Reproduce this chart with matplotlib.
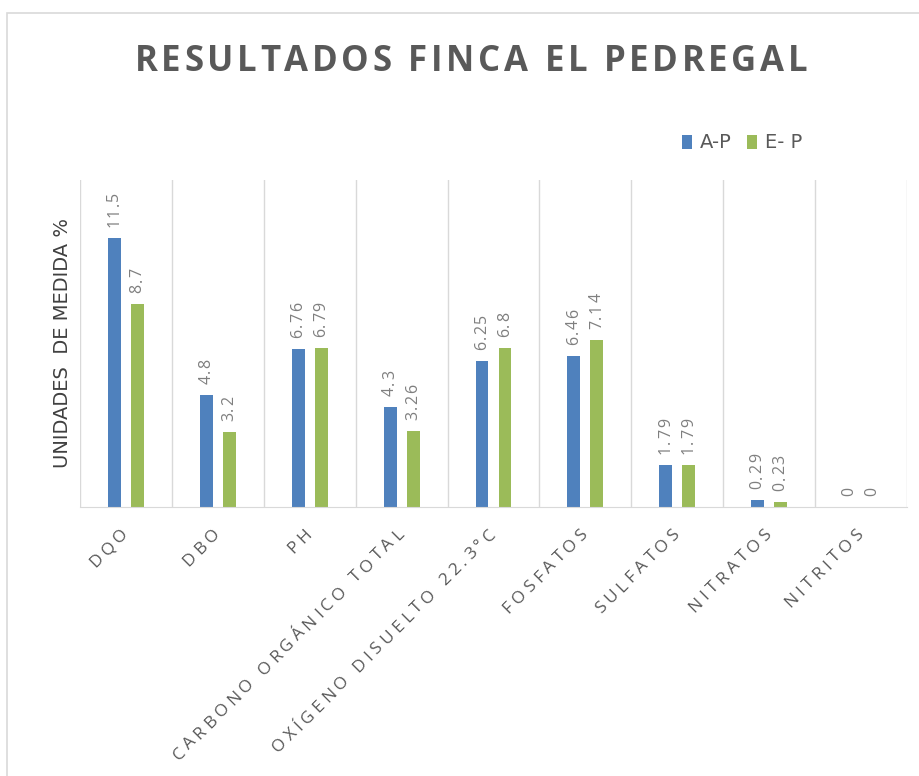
import matplotlib.pyplot as plt
from matplotlib.patches import Rectangle
from matplotlib.transforms import IdentityTransform
from matplotlib.font_manager import FontProperties
import numpy as np

categorias = ['DQO', 'DBO', 'PH', 'CARBONO ORGÁNICO TOTAL', 'OXÍGENO DISUELTO 22.3°C',
              'FOSFATOS', 'SULFATOS', 'NITRATOS', 'NITRITOS']
ap = [11.5, 4.8, 6.76, 4.3, 6.25, 6.46, 1.79, 0.29, 0]
ep = [8.7, 3.2, 6.79, 3.26, 6.8, 7.14, 1.79, 0.23, 0]
etiquetas_ap = ['11.5', '4.8', '6.76', '4.3', '6.25', '6.46', '1.79', '0.29', '0']
etiquetas_ep = ['8.7', '3.2', '6.79', '3.26', '6.8', '7.14', '1.79', '0.23', '0']

azul = '#4F81BD'
verde = '#9BBB59'
gris = '#595959'

W, H = 919, 776
fig = plt.figure(figsize=(W / 100, H / 100), dpi=100)
renderer = fig.canvas.get_renderer()


def ancho(ch, fp):
    # ancho de avance aproximado de un caracter
    w1, _, _ = renderer.get_text_width_height_descent('H' + ch + 'H', fp, ismath=False)
    w0, _, _ = renderer.get_text_width_height_descent('HH', fp, ismath=False)
    return w1 - w0


def texto_espaciado(x, y, s, angulo, size, color, track, ha='left', va='center',
                    weight='normal', family='Open Sans'):
    # x, y en pixeles desde arriba a la izquierda
    fp = FontProperties(family=family, size=size, weight=weight)
    ws = [ancho(c, fp) for c in s]
    total = sum(ws) + track * (len(s) - 1)
    d = np.array([np.cos(np.radians(angulo)), np.sin(np.radians(angulo))])
    p = np.array([x, H - y], dtype=float)
    if ha == 'right':
        p = p - total * d
    elif ha == 'center':
        p = p - total / 2 * d
    for c, w in zip(s, ws):
        fig.text(p[0], p[1], c, transform=IdentityTransform(), rotation=angulo,
                 rotation_mode='anchor', ha='left', va=va, fontproperties=fp, color=color)
        p = p + (w + track) * d


# marco del grafico
fig.patches.append(Rectangle((7 / W, -0.1), 1.2, (H - 13) / H + 0.1, transform=fig.transFigure,
                             fill=False, edgecolor='#d9d9d9', lw=1.2))

x0, x1, ytop, ybase = 80, 907, 180, 507
ax = fig.add_axes([x0 / W, (H - ybase) / H, (x1 - x0) / W, (ybase - ytop) / H])
x = np.arange(len(categorias))
w = 0.14
ax.bar(x - 0.125, ap, w, color=azul, label='A-P')
ax.bar(x + 0.125, ep, w, color=verde, label='E- P')

ax.set_xlim(-0.5, len(categorias) - 0.5)
ax.set_ylim(0, 14)
ax.set_yticks([])
ax.set_xticks(x)
ax.set_xticklabels([])
ax.tick_params(axis='x', length=0)
for xb in np.arange(-0.5, len(categorias), 1.0):
    ax.axvline(xb, color='#d9d9d9', lw=1, zorder=0)
for s in ['top', 'right', 'left']:
    ax.spines[s].set_visible(False)
ax.spines['bottom'].set_color('#d9d9d9')

# etiquetas de valores y de categorias
to_px = ax.transData
for xi, v, t in zip(x, ap, etiquetas_ap):
    px, py = to_px.transform((xi - 0.125, v))
    texto_espaciado(px, H - py - 11, t, 90, 11.5, '#7f7f7f', 1.5, ha='left', va='center')
for xi, v, t in zip(x, ep, etiquetas_ep):
    px, py = to_px.transform((xi + 0.125, v))
    texto_espaciado(px, H - py - 11, t, 90, 11.5, '#7f7f7f', 1.5, ha='left', va='center')
for xi, c in zip(x, categorias):
    px, _ = to_px.transform((xi, 0))
    texto_espaciado(px, ybase + 25, c, 45, 12.5, gris, 4.0, ha='right', va='center')

fig.text(62 / W, 1 - 343 / H, 'UNIDADES  DE MEDIDA %', rotation=90, ha='center', va='center',
         fontsize=14, color='#404040')

# titulo
fp_t = FontProperties(family='Open Sans', size=25, weight='bold')
ws_t = [ancho(c, fp_t) for c in 'RESULTADOS FINCA EL PEDREGAL']
track_t = (673 - sum(ws_t)) / (len(ws_t) - 1)
texto_espaciado(471, 62, 'RESULTADOS FINCA EL PEDREGAL', 0, 25, gris, track_t,
                ha='center', va='center', weight='bold')

ax.legend(loc='center', bbox_to_anchor=(742 / W, 1 - 143 / H), bbox_transform=fig.transFigure,
          ncol=2, frameon=False, fontsize=14, handlelength=0.5, handleheight=0.75,
          columnspacing=0.8, handletextpad=0.4, labelcolor=gris)

fig.savefig('out.png', dpi=100)
